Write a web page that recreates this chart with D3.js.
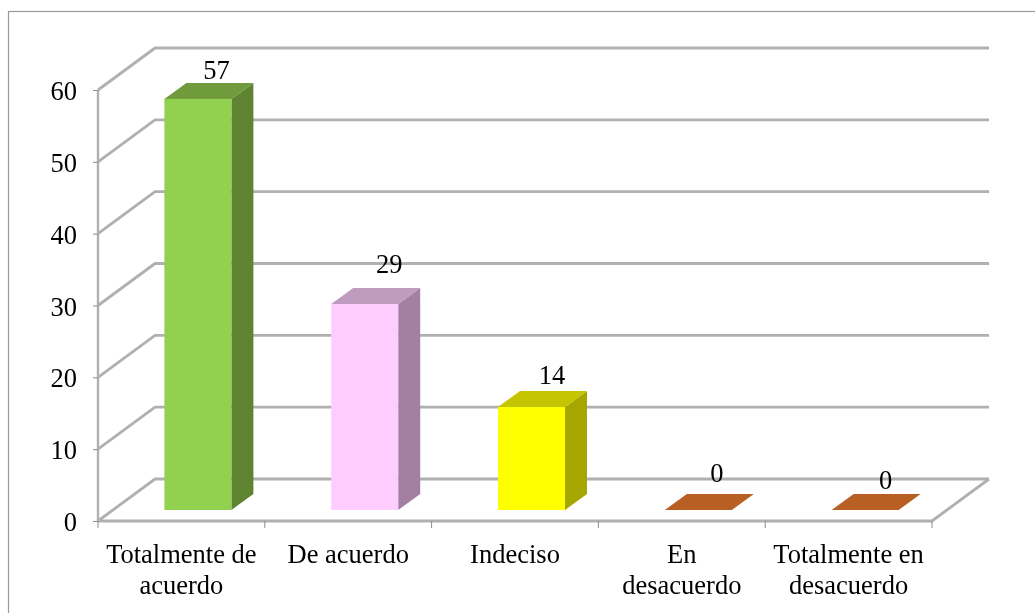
<!DOCTYPE html>
<html>
<head>
<meta charset="utf-8">
<script src="https://cdn.jsdelivr.net/npm/d3@7"></script>
<style>
html, body { margin: 0; padding: 0; background: #fff; }
svg { display: block; filter: blur(0.45px); }
text { font-family: "Liberation Serif", serif; fill: #000; }
</style>
</head>
<body>
<svg id="chart" width="1035" height="613"></svg>
<script>
const categories = ["Totalmente de acuerdo", "De acuerdo", "Indeciso", "En desacuerdo", "Totalmente en desacuerdo"];
const values = [57.1, 28.6, 14.3, 0, 0];
const yTicks = [0, 10, 20, 30, 40, 50, 60];
const frontColors = ["#92d050", "#ffccff", "#ffff00", "#b85f24", "#b85f24"];
const topColors = ["#6f9b3d", "#c09bc0", "#c4c400", "#b85f24", "#b85f24"];
const sideColors = ["#5e8431", "#a37fa3", "#a6a600", "#b85f24", "#b85f24"];
// hand placed label offsets, the original chart nudged them
const labelDx = [-26, -20, -24, -26, -24];
const labelDy = [-4, -15, -7, -12, -5];

const svg = d3.select("#chart");

// wall depth and bar depth, in pixels
const wallDx = 57, wallDy = -42;
const barDx = 22, barDy = -16;
const barShiftX = 16.5, barShiftY = -11;
const fontSize = "26.5px";

const x = d3.scaleBand().domain(categories).range([98, 932]).paddingInner(0).paddingOuter(0);
const y = d3.scaleLinear().domain([0, 60]).range([521, 90]);
const barHeight = d3.scaleLinear().domain([0, 60]).range([0, 432]);
const barWidth = 67;

// outer border
svg.append("rect")
    .attr("x", 8.5).attr("y", 11.5)
    .attr("width", 1040).attr("height", 620)
    .attr("fill", "none")
    .attr("stroke", "#9a9a9a")
    .attr("stroke-width", 1.2);

const line = d3.line();
const gridColor = "#b0b0b0";

// gridlines on side wall and back wall
svg.append("g").selectAll("path")
    .data(yTicks)
    .join("path")
    .attr("d", d => line([
        [x.range()[0], y(d)],
        [x.range()[0] + wallDx, y(d) + wallDy],
        [x.range()[1] + wallDx, y(d) + wallDy]
    ]))
    .attr("fill", "none")
    .attr("stroke", gridColor)
    .attr("stroke-width", 2.8);

// right edge of floor and front edge
svg.append("path")
    .attr("d", line([
        [x.range()[1] + wallDx, y(0) + wallDy],
        [x.range()[1], y(0)],
        [x.range()[0], y(0)]
    ]))
    .attr("fill", "none")
    .attr("stroke", gridColor)
    .attr("stroke-width", 2.8);

// y axis line
svg.append("line")
    .attr("x1", x.range()[0]).attr("x2", x.range()[0])
    .attr("y1", y(60)).attr("y2", y(0))
    .attr("stroke", gridColor)
    .attr("stroke-width", 2.4);

const yAxis = d3.axisLeft(y).tickValues(yTicks).tickSize(5).tickPadding(16).tickFormat(d3.format("d"));
const gy = svg.append("g").attr("transform", `translate(${x.range()[0]},0)`).call(yAxis);
gy.select(".domain").remove();
gy.selectAll("line").attr("stroke", "#8c8c8c");
gy.selectAll("text").style("font-size", fontSize).attr("fill", "#000").attr("dy", "0.36em");

// x ticks on the band edges
svg.append("g").selectAll("line")
    .data(d3.range(categories.length + 1))
    .join("line")
    .attr("x1", i => x.range()[0] + i * x.bandwidth())
    .attr("x2", i => x.range()[0] + i * x.bandwidth())
    .attr("y1", y(0))
    .attr("y2", y(0) + 7)
    .attr("stroke", "#8c8c8c");

// bars
const bars = svg.append("g").selectAll("g")
    .data(categories)
    .join("g");

const bx = (i) => x(categories[i]) + (x.bandwidth() - barWidth) / 2 + barShiftX;
const by = y(0) + barShiftY;
const bt = (i) => by - barHeight(values[i]);

bars.append("path")
    .attr("d", (d, i) => line([
        [bx(i) + barWidth, bt(i)],
        [bx(i) + barWidth + barDx, bt(i) + barDy],
        [bx(i) + barWidth + barDx, by + barDy],
        [bx(i) + barWidth, by]
    ]) + "Z")
    .attr("fill", (d, i) => sideColors[i]);

bars.append("path")
    .attr("d", (d, i) => line([
        [bx(i), bt(i)],
        [bx(i) + barDx, bt(i) + barDy],
        [bx(i) + barWidth + barDx, bt(i) + barDy],
        [bx(i) + barWidth, bt(i)]
    ]) + "Z")
    .attr("fill", (d, i) => topColors[i]);

bars.append("rect")
    .attr("x", (d, i) => bx(i))
    .attr("y", (d, i) => bt(i))
    .attr("width", barWidth)
    .attr("height", (d, i) => barHeight(values[i]))
    .attr("fill", (d, i) => frontColors[i]);

// value labels, rounded like the original
svg.append("g").selectAll("text")
    .data(values)
    .join("text")
    .attr("x", (d, i) => bx(i) + barWidth + barDx / 2 + labelDx[i])
    .attr("y", (d, i) => bt(i) + barDy + labelDy[i])
    .attr("text-anchor", "middle")
    .style("font-size", fontSize)
    .text(d => d3.format(".0f")(d));

// category labels, long names go on two lines
function wrapLabel(name) {
    if (name.length < 11) return [name];
    const words = name.split(" ");
    return [words.slice(0, -1).join(" "), words[words.length - 1]];
}

const xLabels = svg.append("g").selectAll("text")
    .data(categories)
    .join("text")
    .attr("text-anchor", "middle")
    .style("font-size", fontSize);

xLabels.selectAll("tspan")
    .data(d => wrapLabel(d).map(t => ({ t, c: d })))
    .join("tspan")
    .attr("x", d => x(d.c) + x.bandwidth() / 2)
    .attr("y", (d, i) => 563 + i * 31)
    .text(d => d.t);
</script>
</body>
</html>
